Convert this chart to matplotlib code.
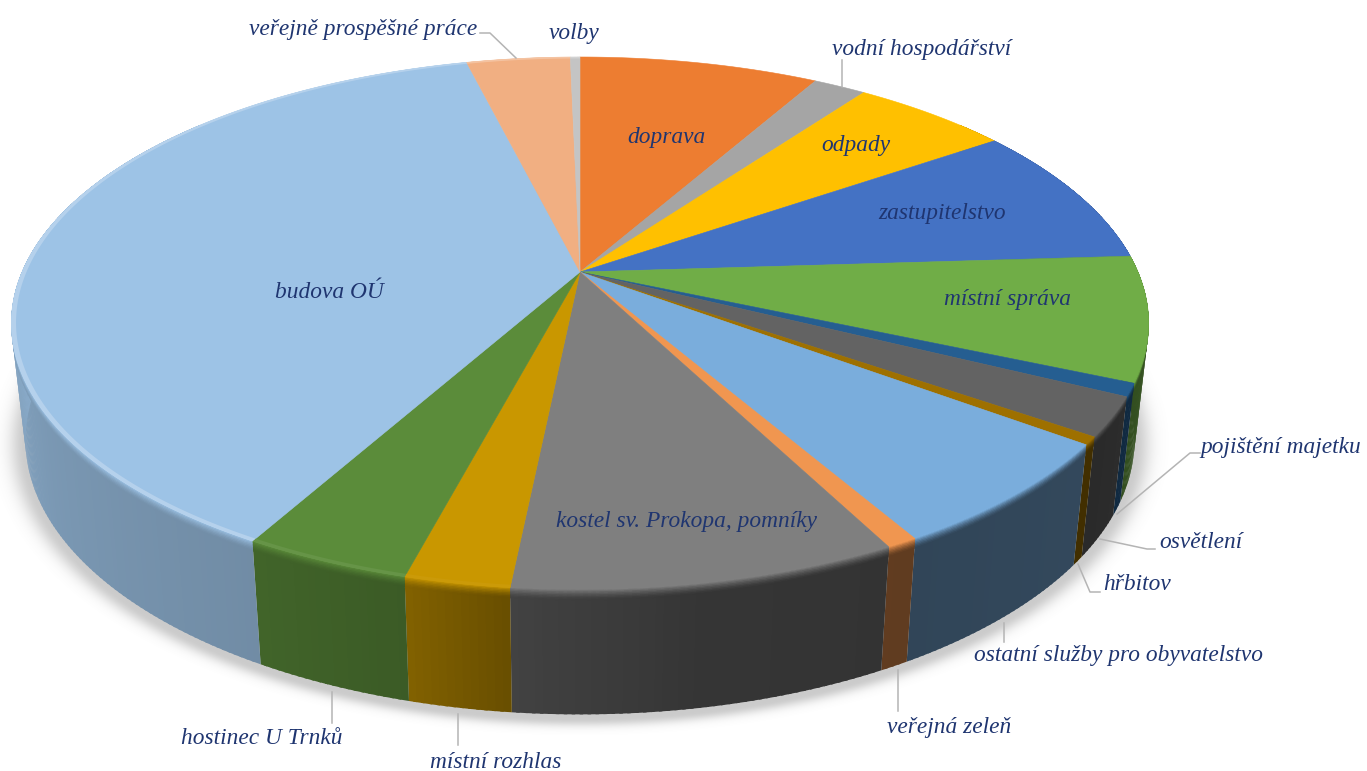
import numpy as np
import matplotlib
matplotlib.use('Agg')
import matplotlib.pyplot as plt
from matplotlib.collections import PolyCollection
from matplotlib.colors import to_rgb

# Slices, clockwise from 12 o'clock (percent)
names = ['doprava', 'vodní hospodářství', 'odpady', 'zastupitelstvo', 'místní správa',
         'pojištění majetku', 'osvětlení', 'hřbitov', 'ostatní služby pro obyvatelstvo',
         'veřejná zeleň', 'kostel sv. Prokopa, pomníky', 'místní rozhlas', 'hostinec U Trnků',
         'budova OÚ', 'veřejně prospěšné práce', 'volby']
values = [8.2, 1.8, 5.4, 8.6, 7.55, 0.78, 2.36, 0.47, 6.5, 0.75, 9.2, 2.5, 4.0, 38.0, 3.55, 0.33]
colors = ['#ED7D31', '#A5A5A5', '#FFC000', '#4472C4', '#70AD47', '#255E91', '#636363', '#9E7000',
          '#7AADDC', '#F09650', '#7F7F7F', '#C99700', '#5B8C3A', '#9DC3E6', '#F1AF82', '#C4C4C4']

# Label anchor (pixels), horizontal alignment
label_pos = {'doprava': (666, 138, 'center'), 'vodní hospodářství': (922, 50, 'center'),
             'odpady': (856, 146, 'center'), 'zastupitelstvo': (942, 213, 'center'),
             'místní správa': (1007, 300, 'center'), 'pojištění majetku': (1281, 448, 'center'),
             'osvětlení': (1201, 543, 'center'), 'hřbitov': (1137, 585, 'center'),
             'ostatní služby pro obyvatelstvo': (1118, 656, 'center'),
             'veřejná zeleň': (949, 728, 'center'),
             'kostel sv. Prokopa, pomníky': (686, 521, 'center'),
             'místní rozhlas': (496, 763, 'center'), 'hostinec U Trnků': (262, 738, 'center'),
             'budova OÚ': (329, 292, 'center'), 'veřejně prospěšné práce': (477, 29, 'right'),
             'volby': (574, 33, 'center')}

leaders = [[(480, 33), (490, 33), (516, 58)], [(842, 60), (842, 87)],
           [(1200, 453), (1190, 453), (1117, 514)], [(1155, 549), (1147, 549), (1100, 539)],
           [(1100, 592), (1090, 592), (1078, 564)], [(1004, 623), (1004, 642)],
           [(898, 670), (898, 711)], [(332, 692), (332, 723)], [(458, 714), (458, 745)]]

# Perspective of the pie
CX, CY = 580, 272
R, S, K = 558, 256.5, 0.193
BOT_X, BOT_Y, BOT_SHIFT = 0.975, 1.03, 115
TEXT = '#1F3570'


def top_xy(a, r=1.0):
    # a = degrees clockwise from top
    t = np.radians(a)
    X, Y = r * np.sin(t), r * np.cos(t)
    d = 1 + K * Y
    return CX + R * X / d, CY - S * Y / d


def bot_xy(a):
    x, y = top_xy(a)
    return CX + (x - CX) * BOT_X, CY + (y - CY) * BOT_Y + BOT_SHIFT


def shade(a):
    return np.interp(a, [90, 125, 150, 170, 186, 195, 210, 240, 275],
                     [.52, .42, .40, .42, .52, .65, .72, .78, .90])


def mix(c, f):
    c = np.array(c)
    return np.clip(c * f, 0, 1) if f <= 1 else c + (1 - c) * (f - 1)


fig = plt.figure(figsize=(13.67, 7.71), dpi=100)
ax = fig.add_axes([0, 0, 1, 1])
ax.set_xlim(0, 1367)
ax.set_ylim(771, 0)
ax.axis('off')

edges = np.concatenate([[0], np.cumsum(values)])
edges = edges / edges[-1] * 360

# soft shadow under the pie
gx, gy = np.meshgrid(np.arange(1367) + .5, np.arange(771) + .5)
aa = np.linspace(0, 360, 721)
bx, by = bot_xy(aa)
ecx, ecy = (bx.max() + bx.min()) / 2, (by.max() + by.min()) / 2
erx, ery = (bx.max() - bx.min()) / 2, (by.max() - by.min()) / 2
dist = (np.sqrt(((gx - ecx) / erx) ** 2 + ((gy - ecy - 4) / ery) ** 2) - 1) * (erx + ery) / 2
alpha = np.where(dist < 0, .4, .4 * np.exp(-(dist / 12) ** 2))
rgba = np.zeros((771, 1367, 4))
rgba[..., :3] = .5
rgba[..., 3] = alpha
ax.imshow(rgba, extent=(0, 1367, 771, 0), zorder=1, aspect='auto')

# side wall, cut in thin slices so the light can change along it
# bands are nested: each one starts at the rim and covers the one before
polys, cols = [], []
bands = [1, .084, .072, .06, .048, .036, .024, .012]
for b in bands:
    for i in range(len(values)):
        lo, hi = max(edges[i], 50), min(edges[i + 1], 310)
        if hi <= lo:
            continue
        c = to_rgb(colors[i])
        n = max(int((hi - lo) * 1.5), 1)
        steps = np.linspace(lo, hi, n + 1)
        for j, (a0, a1) in enumerate(zip(steps[:-1], steps[1:])):
            # overlap the next slice a little, no seams then
            a2 = a1 + .3 if j < n - 1 else a1
            x0, y0 = top_xy(np.array([a0, a2]))
            x1, y1 = bot_xy(np.array([a0, a2]))
            f = shade((a0 + a1) / 2)
            px = [x0[0], x0[1], x0[1] + (x1[1] - x0[1]) * b, x0[0] + (x1[0] - x0[0]) * b]
            py = [y0[0], y0[1], y0[1] + (y1[1] - y0[1]) * b, y0[0] + (y1[0] - y0[0]) * b]
            g = f + (1 - f) * (1 - b / .084) ** 1.5 if b < .1 else f
            polys.append(list(zip(px, py)))
            cols.append(mix(c, g))
ax.add_collection(PolyCollection(polys, facecolors=cols, edgecolors='none', zorder=2))

# top of the pie with a thin rim
for i in range(len(values)):
    a = np.linspace(edges[i], edges[i + 1], max(int(edges[i + 1] - edges[i]) * 2, 3))
    x, y = top_xy(a)
    ax.fill(np.r_[CX, x], np.r_[CY, y], color=colors[i], lw=.4, zorder=3)
    if a[-1] > 190:
        # light catches the edge on the left side
        for r, k in [(.996, 1.0), (.992, .6)]:
            x2, y2 = top_xy(a[::-1], r)
            boost = 1 + k * np.interp(a.mean(), [190, 210, 240], [.05, .15, .4])
            ax.fill(np.r_[x, x2], np.r_[y, y2], color=mix(to_rgb(colors[i]), boost), lw=0, zorder=4 - k)

for pts in leaders:
    ax.plot(*zip(*pts), color='#B4B4B4', lw=1.1, zorder=5)

for name in names:
    x, y, ha = label_pos[name]
    ax.text(x, y, name, ha=ha, va='center', family='Liberation Serif', style='italic',
            fontsize=16.8, color=TEXT, zorder=6)

fig.savefig('out.png', dpi=100)
